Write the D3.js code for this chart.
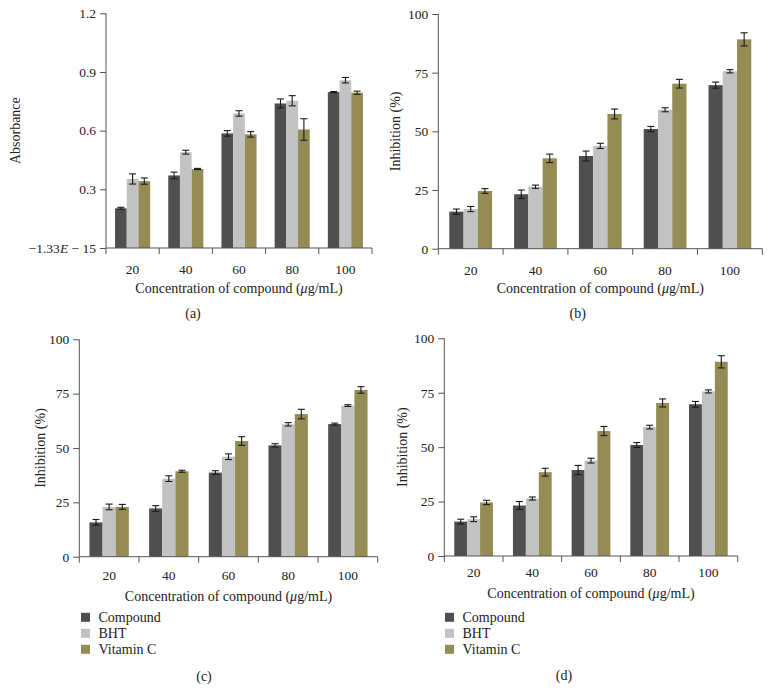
<!DOCTYPE html>
<html>
<head>
<meta charset="utf-8">
<script src="https://cdn.jsdelivr.net/npm/d3@7"></script>
<style>
  html, body { margin: 0; padding: 0; background: #fff; }
  svg { display: block; }
  text { font-family: "Liberation Serif", "Times New Roman", serif; fill: #222; }
</style>
</head>
<body>
<svg id="chart" width="771" height="689"></svg>
<script>
// ---------- data ----------
const categories = ["20", "40", "60", "80", "100"];
const seriesNames = ["Compound", "BHT", "Vitamin C"];
const seriesColors = ["#4f4f4f", "#c2c2c2", "#958b55"];

// (a) Absorbance
const absCompound    = [0.203, 0.371, 0.586, 0.739, 0.797];
const absCompoundErr = [0.005, 0.017, 0.014, 0.023, 0.003];
const absBHT         = [0.353, 0.490, 0.688, 0.753, 0.858];
const absBHTErr      = [0.026, 0.010, 0.014, 0.026, 0.014];
const absVitC        = [0.342, 0.404, 0.581, 0.606, 0.794];
const absVitCErr     = [0.016, 0.003, 0.014, 0.055, 0.008];
const absTicks       = [0, 0.3, 0.6, 0.9, 1.2];
const absTickLabels  = ["−1.33E − 15", "0.3", "0.6", "0.9", "1.2"];

// (b) and (d) Inhibition (%)
const inhBCompound    = [15.8, 23.2, 39.5, 51.0, 69.7];
const inhBCompoundErr = [1.1, 1.8, 2.1, 1.1, 1.3];
const inhBBHT         = [16.9, 26.4, 43.8, 59.2, 75.6];
const inhBBHTErr      = [1.1, 0.7, 1.1, 0.85, 0.7];
const inhBVitC        = [24.6, 38.5, 57.4, 70.3, 89.2];
const inhBVitCErr     = [1.0, 1.8, 2.1, 1.85, 2.8];

// (c) Inhibition (%)
const inhCCompound    = [15.8, 22.2, 38.7, 51.2, 61.0];
const inhCCompoundErr = [1.3, 1.3, 0.85, 0.77, 0.45];
const inhCBHT         = [22.9, 35.9, 46.0, 60.9, 69.5];
const inhCBHTErr      = [1.3, 1.3, 1.3, 0.77, 0.4];
const inhCVitC        = [22.9, 39.3, 53.2, 65.6, 76.7];
const inhCVitCErr     = [1.15, 0.45, 2.0, 2.2, 1.5];

const inhTicks      = [0, 25, 50, 75, 100];
const inhTickLabels = ["0", "25", "50", "75", "100"];

const xTitle = "Concentration of compound (";
// ---------- drawing ----------
const svg = d3.select("#chart");
const axisColor = "#555";

function drawPanel(p) {
  const g = svg.append("g");
  const x = d3.scaleBand().domain(categories).range([p.x0, p.x1]).paddingInner(0).paddingOuter(0);
  const groupW = x.bandwidth() * 0.66;
  const xs = d3.scaleBand().domain(seriesNames).range([0, groupW]).padding(0);
  const y = d3.scaleLinear().domain([0, p.yMax]).range([p.yBase, p.yTop]);

  // bars
  p.series.forEach((vals, si) => {
    const errs = p.errors[si];
    const name = seriesNames[si];
    const data = categories.map((c, i) => ({c, v: vals[i], e: errs[i]}));
    const bx = d => x(d.c) + (x.bandwidth() - groupW) / 2 + xs(name);
    g.selectAll(null).data(data).enter().append("rect")
      .attr("x", bx)
      .attr("y", d => y(d.v))
      .attr("width", xs.bandwidth())
      .attr("height", d => y(0) - y(d.v))
      .attr("fill", seriesColors[si]);
    // error bars
    const cap = 3.5;
    const eg = g.selectAll(null).data(data).enter().append("g")
      .attr("stroke", "#1a1a1a").attr("stroke-width", 1.1);
    eg.append("line")
      .attr("x1", d => bx(d) + xs.bandwidth() / 2).attr("x2", d => bx(d) + xs.bandwidth() / 2)
      .attr("y1", d => y(d.v - d.e)).attr("y2", d => y(d.v + d.e));
    eg.append("line")
      .attr("x1", d => bx(d) + xs.bandwidth() / 2 - cap).attr("x2", d => bx(d) + xs.bandwidth() / 2 + cap)
      .attr("y1", d => y(d.v + d.e)).attr("y2", d => y(d.v + d.e));
    eg.append("line")
      .attr("x1", d => bx(d) + xs.bandwidth() / 2 - cap).attr("x2", d => bx(d) + xs.bandwidth() / 2 + cap)
      .attr("y1", d => y(d.v - d.e)).attr("y2", d => y(d.v - d.e));
  });

  // y axis
  const yAxis = d3.axisLeft(y).tickValues(p.ticks)
    .tickFormat((d, i) => p.tickLabels[i]).tickSize(6).tickPadding(4);
  const ya = g.append("g").attr("transform", `translate(${p.x0},0)`).call(yAxis);
  ya.select(".domain").remove();
  ya.append("line").attr("x1", 0).attr("x2", 0).attr("y1", p.yBase).attr("y2", p.yTop)
    .attr("stroke", axisColor);
  ya.selectAll(".tick line").attr("stroke", axisColor);
  ya.selectAll(".tick text").attr("font-size", 13.5).attr("fill", "#222")
    .attr("font-family", '"Liberation Serif", serif');
  if (p.italicE) {
    ya.selectAll(".tick text").filter((d) => d === 0).each(function () {
      const t = d3.select(this);
      t.text(null);
      t.append("tspan").text("−1.33");
      t.append("tspan").attr("font-style", "italic").text("E");
      t.append("tspan").text(" − 15");
    });
  }

  // x axis: baseline + boundary ticks
  g.append("line").attr("x1", p.x0).attr("x2", p.x1).attr("y1", p.yBase).attr("y2", p.yBase)
    .attr("stroke", axisColor);
  const bounds = categories.map(c => x(c)).concat([p.x1]);
  g.selectAll(null).data(bounds).enter().append("line")
    .attr("x1", d => d).attr("x2", d => d)
    .attr("y1", p.yBase).attr("y2", p.yBase + 6)
    .attr("stroke", axisColor);
  g.selectAll(null).data(categories).enter().append("text")
    .attr("x", d => x(d) + x.bandwidth() / 2)
    .attr("y", p.tickLabelY).attr("dy", "0.35em")
    .attr("text-anchor", "middle").attr("font-size", 13.5).text(d => d);

  // x title
  const xt = g.append("text").attr("x", (p.x0 + p.x1) / 2).attr("y", p.titleY).attr("dy", "0.35em")
    .attr("text-anchor", "middle").attr("font-size", 14);
  xt.append("tspan").text(xTitle);
  xt.append("tspan").attr("font-style", "italic").text("μ");
  xt.append("tspan").text("g/mL)");

  // y title
  g.append("text")
    .attr("transform", `translate(${p.yLabelX},${(p.yBase + p.yTop) / 2}) rotate(-90)`)
    .attr("dy", "0.35em").attr("text-anchor", "middle").attr("font-size", 14)
    .text(p.yLabel);

  // legend
  if (p.legend) {
    seriesNames.forEach((n, i) => {
      const cy = p.legendY + i * 16;
      g.append("rect").attr("x", p.legendX).attr("y", cy - 4.5).attr("width", 9).attr("height", 9)
        .attr("fill", seriesColors[i]);
      g.append("text").attr("x", p.legendX + 17.5).attr("y", cy).attr("dy", "0.35em")
        .attr("font-size", 14).text(n);
    });
  }

  // panel label
  g.append("text").attr("x", p.labelX).attr("y", p.labelY).attr("dy", "0.35em")
    .attr("text-anchor", "middle").attr("font-size", 14).text(p.label);
}

drawPanel({
  x0: 106, x1: 372, yTop: 13.3, yBase: 248, yMax: 1.2,
  ticks: absTicks, tickLabels: absTickLabels, italicE: true,
  series: [absCompound, absBHT, absVitC], errors: [absCompoundErr, absBHTErr, absVitCErr],
  tickLabelY: 269.5, titleY: 288.5, yLabel: "Absorbance", yLabelX: 15,
  label: "(a)", labelX: 193, labelY: 313.5, legend: false
});
drawPanel({
  x0: 438.3, x1: 762.3, yTop: 14, yBase: 248.7, yMax: 100,
  ticks: inhTicks, tickLabels: inhTickLabels,
  series: [inhBCompound, inhBBHT, inhBVitC], errors: [inhBCompoundErr, inhBBHTErr, inhBVitCErr],
  tickLabelY: 270, titleY: 288.5, yLabel: "Inhibition (%)", yLabelX: 395,
  label: "(b)", labelX: 577.7, labelY: 313.5, legend: false
});
drawPanel({
  x0: 79.3, x1: 377.7, yTop: 339.3, yBase: 556.7, yMax: 100,
  ticks: inhTicks, tickLabels: inhTickLabels,
  series: [inhCCompound, inhCBHT, inhCVitC], errors: [inhCCompoundErr, inhCBHTErr, inhCVitCErr],
  tickLabelY: 575, titleY: 595.7, yLabel: "Inhibition (%)", yLabelX: 40,
  label: "(c)", labelX: 204, labelY: 675.7, legend: true, legendX: 81, legendY: 617.3
});
drawPanel({
  x0: 444.3, x1: 737.7, yTop: 338.3, yBase: 556, yMax: 100,
  ticks: inhTicks, tickLabels: inhTickLabels,
  series: [inhBCompound, inhBBHT, inhBVitC], errors: [inhBCompoundErr, inhBBHTErr, inhBVitCErr],
  tickLabelY: 572.3, titleY: 593.3, yLabel: "Inhibition (%)", yLabelX: 401.7,
  label: "(d)", labelX: 564, labelY: 675, legend: true, legendX: 445, legendY: 617.3
});
</script>
</body>
</html>
